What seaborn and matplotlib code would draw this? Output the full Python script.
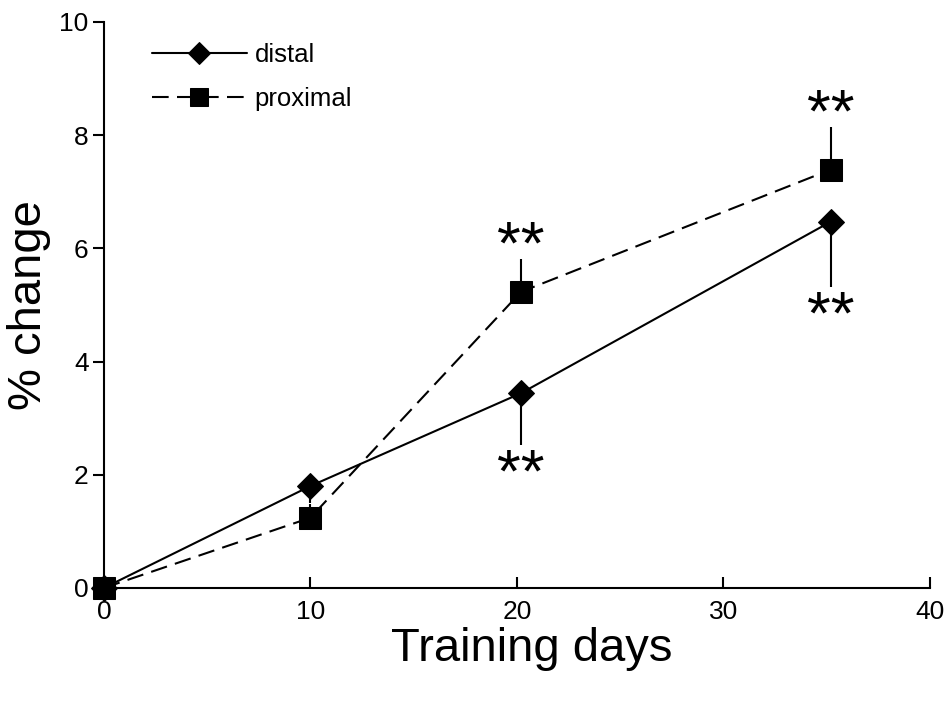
import matplotlib
matplotlib.use("Agg")
import matplotlib.pyplot as plt
import seaborn as sns
import pandas as pd

days = [0, 10, 20.2, 35.2]
distal = [0, 1.80, 3.44, 6.47]
proximal = [0, 1.24, 5.23, 7.39]
distal_err_low = [0, 0.30, 0.91, 1.15]
proximal_err_high = [0, 0.25, 0.58, 0.76]
sig_days = [20.2, 35.2]
x_ticks = [0, 10, 20, 30, 40]
y_ticks = [0, 2, 4, 6, 8, 10]

sns.set_style("white")
plt.rcParams['font.family'] = ['Liberation Sans', 'DejaVu Sans']

df = pd.DataFrame({
    "day": days * 2,
    "value": distal + proximal,
    "group": ["distal"] * 4 + ["proximal"] * 4,
})

fig = plt.figure(figsize=(9.44, 7.05), dpi=100)
ax = fig.add_axes([0.110, 0.166, 0.875, 0.803])

# error bars (one-sided)
for d, v, e in zip(days, distal, distal_err_low):
    if e > 0:
        ax.vlines(d, v - e, v, color="black", lw=1.5, zorder=1)
for d, v, e in zip(days, proximal, proximal_err_high):
    if e > 0:
        ax.vlines(d, v, v + e, color="black", lw=1.5, zorder=1)

sns.lineplot(data=df, x="day", y="value", hue="group", style="group",
             palette={"distal": "black", "proximal": "black"},
             markers={"distal": "D", "proximal": "s"},
             dashes={"distal": "", "proximal": (8, 4)},
             markersize=13, lw=1.5, markeredgecolor="black",
             ax=ax, legend=True, zorder=3, clip_on=False)
for line in ax.lines:
    if line.get_marker() == "s":
        line.set_markersize(16)

# significance asterisks
for d in sig_days:
    i = days.index(d)
    ax.text(d, proximal[i] + proximal_err_high[i] - 0.08, "**", ha="center",
            va="baseline", fontsize=44, color="black")
    ax.text(d, distal[i] - distal_err_low[i] - 0.83, "**", ha="center",
            va="baseline", fontsize=44, color="black")

ax.set_xlim(0, 40)
ax.set_ylim(0, 10)
ax.set_xticks(x_ticks)
ax.set_yticks(y_ticks)
ax.tick_params(axis="x", direction="in", length=8, width=1.5, labelsize=19,
               pad=9, colors="black", bottom=True)
ax.tick_params(axis="y", direction="out", length=8, width=1.5, labelsize=19,
               pad=3, colors="black", left=True)
for s in ["top", "right"]:
    ax.spines[s].set_visible(False)
for s in ["left", "bottom"]:
    ax.spines[s].set_color("black")
    ax.spines[s].set_linewidth(1.5)
ax.set_xlabel("Training days", fontsize=34, color="black")
ax.set_ylabel("% change", fontsize=34, labelpad=6, color="black")
ax.xaxis.set_label_coords(0.518, -0.069)

leg = ax.legend(loc="upper left", bbox_to_anchor=(0.03, 1.003), frameon=False,
                fontsize=18.5, handlelength=3.7, handletextpad=0.3,
                labelspacing=0.75, markerscale=0.85)
for t in leg.get_texts():
    t.set_color("black")

fig.savefig("out.png", dpi=100)
